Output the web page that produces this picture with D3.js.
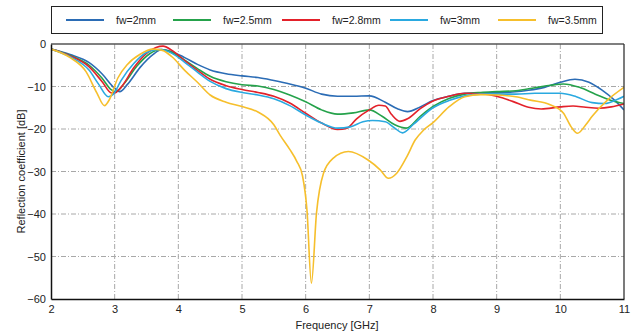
<!DOCTYPE html>
<html><head><meta charset="utf-8">
<script src="https://cdn.jsdelivr.net/npm/d3@7"></script>
<style>
html,body{margin:0;padding:0;background:#fff;}
text{font-family:"Liberation Sans",Arial,sans-serif;}
</style></head>
<body><svg id="c" width="638" height="334"></svg>
<script>
const seriesNames = ["fw=2mm","fw=2.5mm","fw=2.8mm","fw=3mm","fw=3.5mm"];
const seriesColors = ["#2b6cb5","#25a24b","#e3212a","#2aa9e0","#f6bf2c"];
const xTicks = [2,3,4,5,6,7,8,9,10,11];
const yTicks = [0,-10,-20,-30,-40,-50,-60];

const f1 = [2,2.3,2.6,2.8,3.0,3.08,3.2,3.4,3.6,3.74,3.9,4.1,4.3,4.5,4.75,5.0,5.25,5.5,5.75,6.0,6.25,6.5,6.75,7.0,7.25,7.45,7.6,7.8,8.0,8.25,8.5,8.75,9.0,9.25,9.5,9.75,10.0,10.23,10.45,10.65,10.85,11];
const v1 = [-1.2,-2.5,-4.4,-7.0,-10.4,-11.2,-9.5,-5.5,-2.5,-1.3,-1.8,-3.2,-4.8,-6.1,-7.0,-7.5,-7.9,-8.6,-9.4,-10.4,-11.8,-12.3,-12.3,-12.2,-13.7,-15.3,-15.9,-14.8,-13.3,-12.3,-11.6,-11.5,-11.5,-11.3,-10.9,-10.2,-9.0,-8.3,-9.0,-10.8,-13.2,-15.5];

const f2 = [2,2.3,2.6,2.8,2.95,3.02,3.15,3.35,3.55,3.72,3.9,4.1,4.3,4.5,4.75,5.0,5.25,5.5,5.75,6.0,6.25,6.5,6.75,7.0,7.2,7.4,7.58,7.8,8.0,8.25,8.5,8.75,9.0,9.3,9.6,9.85,10.05,10.3,10.55,10.8,11];
const v2 = [-1.2,-2.7,-5.0,-8.0,-10.8,-11.2,-9.3,-5.2,-2.3,-1.3,-2.0,-3.8,-5.8,-7.6,-8.9,-9.6,-9.9,-10.7,-12.0,-13.6,-15.5,-16.5,-16.2,-15.5,-17.0,-19.0,-19.8,-17.0,-14.7,-12.8,-11.8,-11.4,-11.2,-11.0,-10.3,-9.7,-9.4,-10.2,-11.8,-13.3,-14.0];

const f3 = [2,2.3,2.6,2.8,2.95,3.0,3.1,3.3,3.5,3.65,3.76,3.9,4.1,4.3,4.5,4.75,5.0,5.25,5.5,5.75,6.0,6.25,6.5,6.65,6.8,7.0,7.15,7.25,7.35,7.48,7.6,7.8,8.0,8.25,8.5,8.75,9.0,9.25,9.5,9.7,10.0,10.2,10.4,10.6,10.8,11];
const v3 = [-1.2,-2.8,-5.4,-8.8,-11.5,-11.5,-10.2,-5.6,-2.2,-0.8,-0.5,-1.5,-3.9,-6.2,-8.3,-9.8,-10.7,-11.4,-12.3,-13.9,-16.3,-18.6,-20.1,-19.8,-17.6,-15.5,-14.4,-14.6,-16.6,-18.2,-17.6,-15.2,-13.4,-12.3,-11.6,-11.7,-12.3,-13.5,-14.9,-15.3,-14.8,-14.6,-14.9,-15.1,-14.8,-14.1];

const f4 = [2,2.3,2.6,2.75,2.9,2.98,3.1,3.3,3.5,3.7,3.9,4.1,4.3,4.5,4.75,5.0,5.25,5.5,5.75,6.0,6.25,6.5,6.7,6.9,7.05,7.25,7.4,7.52,7.7,8.0,8.25,8.5,8.75,9.0,9.3,9.6,10.0,10.25,10.5,10.7,10.9,11];
const v4 = [-1.2,-3.0,-6.2,-9.5,-12.4,-11.8,-8.6,-4.6,-2.0,-1.3,-2.2,-4.3,-6.6,-8.8,-10.5,-11.4,-12.0,-12.9,-14.5,-16.7,-18.6,-19.8,-19.5,-18.3,-18.0,-18.3,-19.8,-20.9,-18.8,-15.0,-13.3,-12.2,-11.8,-11.8,-11.8,-11.6,-11.6,-12.4,-13.8,-14.0,-13.0,-12.3];

const f5 = [2,2.3,2.55,2.72,2.84,2.92,3.05,3.2,3.4,3.6,3.75,3.9,4.1,4.3,4.5,4.75,5.0,5.25,5.5,5.6,5.75,5.86,5.95,6.02,6.09,6.17,6.28,6.43,6.67,6.98,7.17,7.3,7.43,7.59,7.72,7.85,8.0,8.25,8.5,8.75,9.0,9.3,9.53,9.84,10.05,10.17,10.27,10.4,10.5,10.74,11];
const v5 = [-1.2,-3.2,-6.5,-11.5,-14.5,-13.0,-8.0,-4.8,-2.4,-1.2,-1.5,-3.0,-6.2,-9.0,-12.0,-13.7,-14.7,-16.0,-19.0,-21.5,-24.8,-27.6,-31.0,-39.0,-56.3,-39.8,-30.4,-26.9,-25.3,-27.3,-29.6,-31.6,-30.4,-26.5,-22.6,-20.3,-18.5,-14.8,-12.4,-11.9,-12.0,-12.4,-13.2,-14.3,-16.3,-19.5,-21.0,-19.0,-17.0,-13.2,-10.2];

const freqs = [f1,f2,f3,f4,f5];
const vals = [v1,v2,v3,v4,v5];

const svg = d3.select("#c");
const x = d3.scaleLinear().domain([2,11]).range([51,624]);
const y = d3.scaleLinear().domain([0,-60]).range([44,299]);

// grid
const grid = svg.append("g");
grid.selectAll(".gx").data(xTicks.slice(1,-1)).enter().append("line")
  .attr("x1",d=>x(d)).attr("x2",d=>x(d)).attr("y1",y(0)).attr("y2",y(-60))
  .attr("stroke","#a8a8a8").attr("stroke-width",1).attr("stroke-dasharray","5,2,1,2");
grid.selectAll(".gy").data(yTicks.slice(1,-1)).enter().append("line")
  .attr("x1",x(2)).attr("x2",x(11)).attr("y1",d=>y(d)).attr("y2",d=>y(d))
  .attr("stroke","#a8a8a8").attr("stroke-width",1).attr("stroke-dasharray","5,2,1,2");

// curves
const line = d3.line().x(d=>x(d[0])).y(d=>y(d[1])).curve(d3.curveMonotoneX);
const clip = svg.append("clipPath").attr("id","cl").append("rect")
  .attr("x",x(2)).attr("y",y(0)).attr("width",x(11)-x(2)).attr("height",y(-60)-y(0));
const cg = svg.append("g").attr("clip-path","url(#cl)");
seriesNames.forEach((n,i)=>{
  const pts = freqs[i].map((f,j)=>[f,vals[i][j]]);
  cg.append("path").datum(pts).attr("d",line).attr("fill","none")
    .attr("stroke",seriesColors[i]).attr("stroke-width",1.6);
});

// frame
svg.append("line").attr("x1",x(2)).attr("x2",x(11)).attr("y1",y(0)).attr("y2",y(0)).attr("stroke","#555").attr("stroke-width",1.3);
svg.append("line").attr("x1",x(11)).attr("x2",x(11)).attr("y1",y(0)).attr("y2",y(-60)).attr("stroke","#333").attr("stroke-width",1.3);

const xAxis = d3.axisBottom(x).tickValues(xTicks).tickSize(0).tickPadding(6).tickFormat(d3.format("d"));
const gx = svg.append("g").attr("transform",`translate(0,${y(-60)})`).call(xAxis);
gx.select(".domain").attr("stroke","#111").attr("stroke-width",1.5);
gx.selectAll("text").attr("font-size",11).attr("fill","#222").attr("font-family","Liberation Sans, Arial, sans-serif");

const yAxis = d3.axisLeft(y).tickValues(yTicks).tickSize(0).tickPadding(5).tickFormat(d3.format("d"));
const gy = svg.append("g").attr("transform",`translate(${x(2)},0)`).call(yAxis);
gy.select(".domain").attr("stroke","#111").attr("stroke-width",1.5);
gy.selectAll("text").attr("font-size",11).attr("fill","#222").attr("font-family","Liberation Sans, Arial, sans-serif");

svg.append("text").attr("x",337).attr("y",329).attr("text-anchor","middle")
  .attr("font-size",11).attr("fill","#222").text("Frequency [GHz]");
svg.append("text").attr("transform",`translate(25,${(y(0)+y(-60))/2}) rotate(-90)`)
  .attr("text-anchor","middle").attr("font-size",11).attr("fill","#222").text("Reflection coefficient [dB]");

// legend
const lg = svg.append("g");
lg.append("rect").attr("x",51.5).attr("y",6.5).attr("width",551).attr("height",27)
  .attr("fill","#fff").attr("stroke","#222").attr("stroke-width",1);
const lineX = [66,173,282,390,498];
const textX = [116,223,332,440,548];
seriesNames.forEach((n,i)=>{
  lg.append("line").attr("x1",lineX[i]).attr("x2",lineX[i]+38).attr("y1",20).attr("y2",20)
    .attr("stroke",seriesColors[i]).attr("stroke-width",2);
  lg.append("text").attr("x",textX[i]).attr("y",24).attr("font-size",10.5).attr("fill","#222").text(n);
});
</script></body></html>
